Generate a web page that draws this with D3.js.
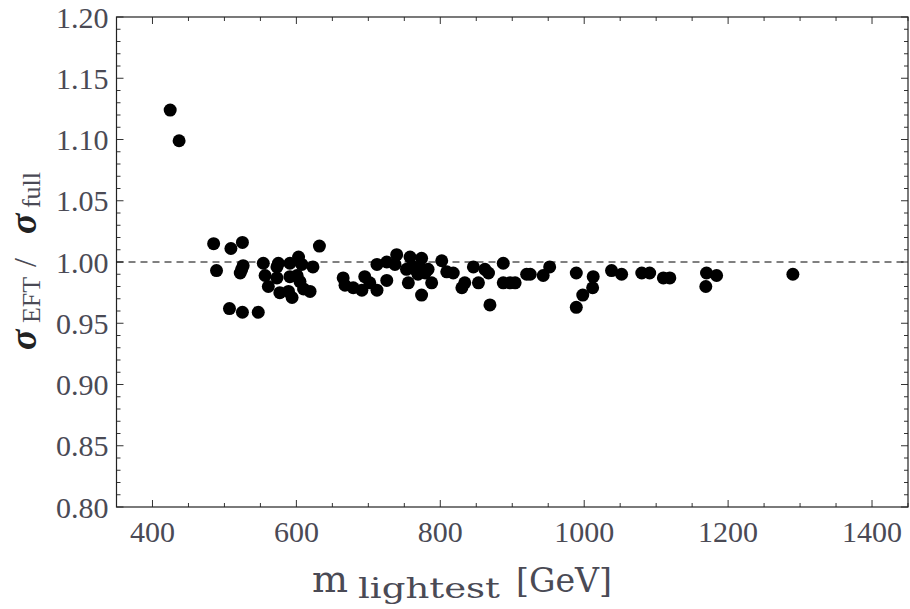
<!DOCTYPE html>
<html>
<head>
<meta charset="utf-8">
<script src="https://cdn.jsdelivr.net/npm/d3@7"></script>
<style>
  body { margin: 0; background: #fff; }
  svg { display: block; }
  .tick-label { font-family: "Liberation Serif", serif; font-size: 30px; fill: #4a4a55; }
</style>
</head>
<body>
<svg id="chart" width="910" height="609"></svg>
<script>
// lightest mass [GeV]
const masses = [
  424.6, 437, 485, 509, 525, 489, 524, 526, 522, 507, 525, 547,
  554, 556.5, 561, 573, 575, 573, 577, 591, 591, 589, 594, 603, 601, 607.5, 605, 610, 619, 623, 632,
  665, 667.6, 679, 691, 695, 702, 712, 712, 725.6, 725.6, 737, 739.4,
  753, 755.6, 758, 762.5, 774, 765, 772, 779, 783, 769, 774, 788,
  802, 809, 818, 830, 834, 846, 853, 862, 867, 869, 887.5, 887.5, 897, 904,
  920, 925, 943, 952, 989, 1012.5, 1011.7, 998, 989,
  1038, 1052, 1080, 1091, 1110, 1119, 1170, 1184, 1169, 1290
];
// sigma_EFT / sigma_full
const ratios = [
  1.124, 1.099, 1.015, 1.011, 1.016, 0.993, 0.994, 0.997, 0.991, 0.962, 0.959, 0.959,
  0.999, 0.989, 0.980, 0.996, 0.999, 0.987, 0.975, 0.999, 0.988, 0.976, 0.971, 1.004, 0.989, 0.998, 0.984, 0.978, 0.976, 0.996, 1.013,
  0.987, 0.981, 0.979, 0.977, 0.988, 0.983, 0.977, 0.998, 0.985, 1.000, 0.998, 1.006,
  0.994, 0.983, 1.004, 0.996, 1.003, 0.994, 0.995, 0.991, 0.994, 0.990, 0.973, 0.983,
  1.001, 0.992, 0.991, 0.979, 0.983, 0.996, 0.983, 0.994, 0.991, 0.965, 0.999, 0.983, 0.983, 0.983,
  0.990, 0.990, 0.989, 0.996, 0.991, 0.988, 0.979, 0.973, 0.963,
  0.993, 0.990, 0.991, 0.991, 0.987, 0.987, 0.991, 0.989, 0.980, 0.990
];
const xTicks = [400, 600, 800, 1000, 1200, 1400];
const yTicks = [0.80, 0.85, 0.90, 0.95, 1.00, 1.05, 1.10, 1.15, 1.20];

const data = masses.map((m, i) => ({m: m, r: ratios[i]}));

const margin = {top: 17, right: 2, bottom: 102, left: 116.5};
const width = 910 - margin.left - margin.right;
const height = 609 - margin.top - margin.bottom;

const svg = d3.select("#chart");
const g = svg.append("g")
    .attr("transform", "translate(" + margin.left + "," + margin.top + ")");

const x = d3.scaleLinear().domain([350, 1450]).range([0, width]);
const y = d3.scaleLinear().domain([0.80, 1.20]).range([height, 0]);

// minor ticks: every 50 GeV and every 0.01
const xMinor = d3.range(350, 1451, 50).filter(v => xTicks.indexOf(v) < 0);
const yMinor = d3.range(80, 121, 1).map(v => v / 100).filter(v => !yTicks.some(t => Math.abs(t - v) < 1e-9));

const tickColor = "#333";
function drawTicks(vals, len, horiz) {
  vals.forEach(v => {
    if (horiz) {
      const px = x(v);
      g.append("line").attr("x1", px).attr("x2", px).attr("y1", height).attr("y2", height - len).attr("stroke", tickColor);
      g.append("line").attr("x1", px).attr("x2", px).attr("y1", 0).attr("y2", len).attr("stroke", tickColor);
    } else {
      const py = y(v);
      g.append("line").attr("y1", py).attr("y2", py).attr("x1", 0).attr("x2", len).attr("stroke", tickColor);
      g.append("line").attr("y1", py).attr("y2", py).attr("x1", width).attr("x2", width - len).attr("stroke", tickColor);
    }
  });
}
drawTicks(xTicks, 7, true);
drawTicks(xMinor, 4, true);
drawTicks(yTicks, 7, false);
drawTicks(yMinor, 4, false);

// frame
g.append("rect")
    .attr("width", width).attr("height", height)
    .attr("fill", "none").attr("stroke", "#222").attr("stroke-width", 1.2);

// tick labels
g.selectAll(".xl").data(xTicks).join("text")
    .attr("class", "tick-label")
    .attr("x", d => x(d)).attr("y", height + 35)
    .attr("text-anchor", "middle")
    .text(d => d);

g.selectAll(".yl").data(yTicks).join("text")
    .attr("class", "tick-label")
    .attr("x", -8).attr("y", d => y(d)).attr("dy", "0.35em")
    .attr("text-anchor", "end")
    .text(d => d.toFixed(2));

// reference line at 1
g.append("line")
    .attr("x1", 0).attr("x2", width)
    .attr("y1", y(1)).attr("y2", y(1))
    .attr("stroke", "#000").attr("stroke-width", 1)
    .attr("stroke-dasharray", "7,5");

// points
g.selectAll("circle").data(data).join("circle")
    .attr("cx", d => x(d.m))
    .attr("cy", d => y(d.r))
    .attr("r", 6.5)
    .attr("fill", "#000");

// axis titles
const xt = svg.append("text")
    .attr("x", 312).attr("y", 592)
    .attr("font-family", "DejaVu Serif, serif")
    .attr("fill", "#4a4a55");
xt.append("tspan").attr("font-size", 38).text("m");
xt.append("tspan").attr("x", 358).attr("font-size", 27).attr("dy", 6)
    .attr("textLength", 142).attr("lengthAdjust", "spacingAndGlyphs").text("lightest");
xt.append("tspan").attr("x", 516).attr("font-size", 33).attr("dy", -6)
    .attr("textLength", 96).attr("lengthAdjust", "spacingAndGlyphs").text("[GeV]");

const yt = svg.append("text")
    .attr("transform", "translate(36,350) rotate(-90)")
    .attr("font-family", "Liberation Serif, serif")
    .attr("fill", "#4a4a55");
yt.append("tspan").attr("font-size", 38).attr("font-style", "italic").attr("font-weight", "bold").attr("fill", "#222").text("\u03c3");
yt.append("tspan").attr("x", 27).attr("font-size", 26).attr("dy", 4)
    .attr("textLength", 46).attr("lengthAdjust", "spacingAndGlyphs").text("EFT");
yt.append("tspan").attr("x", 83).attr("font-size", 32).attr("dy", -4).text("/");
yt.append("tspan").attr("x", 116).attr("font-size", 38).attr("font-style", "italic").attr("font-weight", "bold").attr("fill", "#222").text("\u03c3");
yt.append("tspan").attr("x", 142).attr("font-size", 26).attr("dy", 4)
    .attr("textLength", 36).attr("lengthAdjust", "spacing").text("full");
</script>
</body>
</html>
